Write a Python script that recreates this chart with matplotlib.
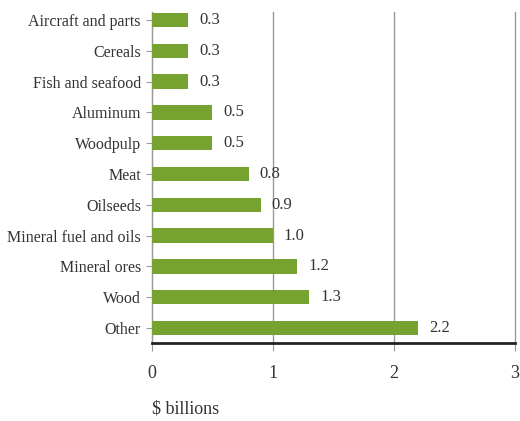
import matplotlib
matplotlib.use('Agg')
import matplotlib.pyplot as plt

categories = ["Aircraft and parts", "Cereals", "Fish and seafood", "Aluminum",
              "Woodpulp", "Meat", "Oilseeds", "Mineral fuel and oils",
              "Mineral ores", "Wood", "Other"]
values = [0.3, 0.3, 0.3, 0.5, 0.5, 0.8, 0.9, 1.0, 1.2, 1.3, 2.2]
xticks = [0, 1, 2, 3]

plt.rcParams['font.family'] = ['Liberation Serif', 'DejaVu Serif']
green = '#76a22f'
grey = '#999999'
text_col = '#333333'

fig = plt.figure(figsize=(5.2, 4.21), dpi=100)
ax = fig.add_axes([0.2923, 0.1853, 0.698, 0.7862])

pos = list(range(len(categories)))
ax.barh(pos, values, height=0.47, color=green, zorder=3)
for y, v in zip(pos, values):
    ax.text(v + 0.09, y, f"{v:.1f}", va='center', ha='left',
            fontsize=12, color=text_col)

ax.set_ylim(10.49, -0.26)
ax.set_xlim(0, 3)
ax.set_yticks(pos)
ax.set_yticklabels(categories, fontsize=11.5, color=text_col)
ax.set_xticks(xticks)
ax.set_xticklabels([str(t) for t in xticks], fontsize=13, color=text_col)

ax.grid(axis='x', color=grey, lw=1, zorder=0)
for gl in ax.get_xgridlines():
    gl.set_clip_on(False)
for s in ['top', 'right']:
    ax.spines[s].set_visible(False)
ax.spines['left'].set_color(grey)
ax.spines['bottom'].set_color('#222222')
ax.spines['bottom'].set_linewidth(2)
ax.tick_params(axis='x', length=6, color=grey, pad=10, direction='out')
ax.tick_params(axis='y', length=4, color=grey, pad=4)

fig.text(152 / 520, 1 - 409 / 421, "$ billions", fontsize=13,
         color=text_col, ha='left', va='center')

fig.savefig('out.png', dpi=100)
